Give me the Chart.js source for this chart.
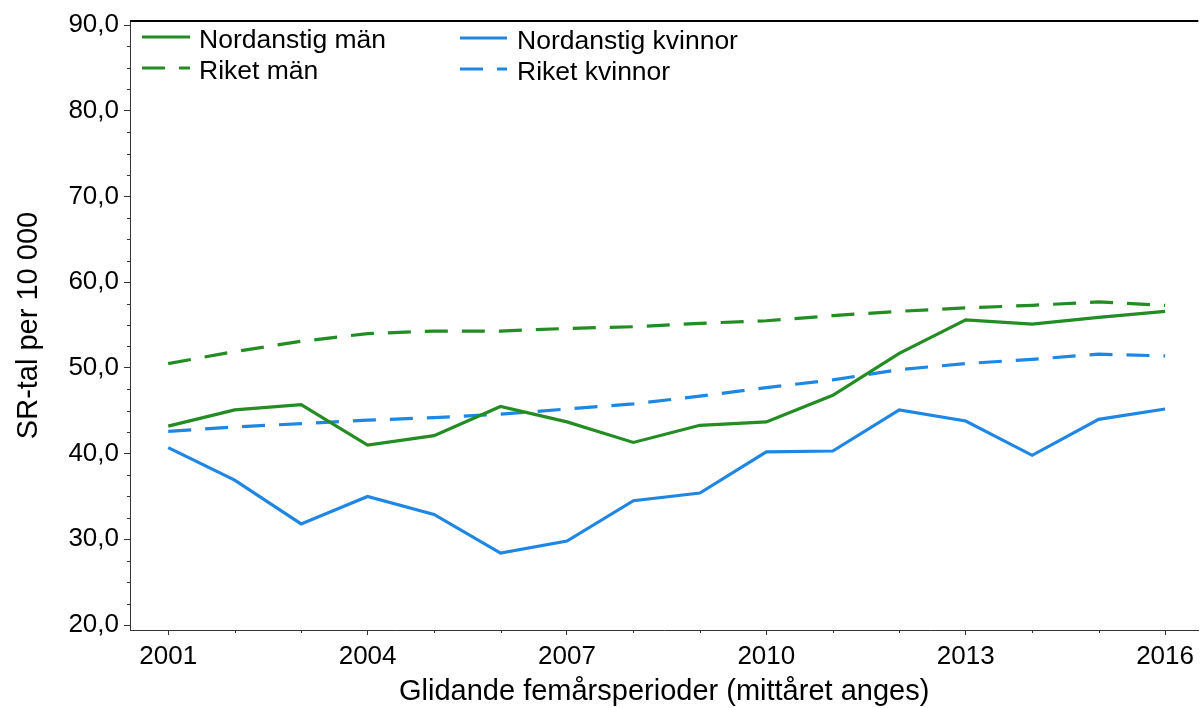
<!DOCTYPE html>
<html><head><meta charset="utf-8">
<script src="https://cdn.jsdelivr.net/npm/chart.js@4.4.1/dist/chart.umd.min.js"></script>
<style>html,body{margin:0;padding:0;background:#fff}#wrap{width:1200px;height:708px}</style>
</head><body><div id="wrap"><canvas id="c" width="1200" height="708"></canvas></div>
<script>
const years = [2001,2002,2003,2004,2005,2006,2007,2008,2009,2010,2011,2012,2013,2014,2015,2016];
const nordanstigMan = [43.2,45.1,45.7,41.0,42.1,45.5,43.7,41.3,43.3,43.7,46.8,51.7,55.6,55.1,55.9,56.6];
const riketMan = [50.5,51.9,53.1,54.0,54.3,54.3,54.6,54.8,55.2,55.5,56.1,56.6,57.0,57.3,57.7,57.3];
const nordanstigKvinnor = [40.7,36.9,31.8,35.0,32.9,28.4,29.8,34.5,35.4,40.2,40.3,45.1,43.8,39.8,44.0,45.2];
const riketKvinnor = [42.6,43.1,43.5,43.9,44.2,44.6,45.2,45.8,46.7,47.7,48.6,49.8,50.5,51.0,51.6,51.4];
const yTickValues = [20,30,40,50,60,70,80,90];
const xTickLabels = [2001,2004,2007,2010,2013,2016];
const seriesLabels = ['Nordanstig män','Riket män','Nordanstig kvinnor','Riket kvinnor'];
const yTitle = 'SR-tal per 10 000';
const xTitle = 'Glidande femårsperioder (mittåret anges)';

const GREEN = '#238c23';
const BLUE = '#1f87e3';
const FONT = '"Liberation Sans", Arial, sans-serif';
const DASH = [23, 14];

function pts(arr){ return years.map((y,i)=>({x:y, y:arr[i]})); }

const extras = {
  id: 'extras',
  afterDraw(chart){
    const ctx = chart.ctx, a = chart.chartArea;
    const xs = chart.scales.x, ys = chart.scales.y;
    ctx.save();
    ctx.strokeStyle = '#000'; ctx.lineWidth = 2;
    ctx.beginPath(); ctx.moveTo(a.left, a.top); ctx.lineTo(a.right, a.top); ctx.stroke();
    ctx.strokeStyle = '#333'; ctx.lineWidth = 1;
    years.forEach(v=>{
      if (xTickLabels.includes(v)) return;
      const px = Math.round(xs.getPixelForValue(v)) + 0.5;
      ctx.beginPath(); ctx.moveTo(px, a.bottom); ctx.lineTo(px, a.bottom + 3); ctx.stroke();
    });
    for (let v = 20; v <= 90; v += 2.5) {
      if (v % 10 === 0) continue;
      const py = Math.round(ys.getPixelForValue(v)) + 0.5;
      ctx.beginPath(); ctx.moveTo(a.left - 3, py); ctx.lineTo(a.left, py); ctx.stroke();
    }
    const pos = [
      {x1:142, x2:190, y:37, tx:199},
      {x1:142, x2:190, y:68, tx:199},
      {x1:460, x2:507, y:38, tx:517},
      {x1:460, x2:507, y:69, tx:517}
    ];
    chart.data.datasets.forEach((ds,i)=>{
      const p = pos[i];
      ctx.strokeStyle = ds.borderColor; ctx.lineWidth = 3;
      ctx.setLineDash(ds.borderDash || []);
      ctx.beginPath(); ctx.moveTo(p.x1, p.y); ctx.lineTo(p.x2, p.y); ctx.stroke();
      ctx.setLineDash([]);
      ctx.fillStyle = '#000'; ctx.font = '26.5px ' + FONT;
      ctx.textBaseline = 'middle'; ctx.textAlign = 'left';
      ctx.fillText(ds.label, p.tx, p.y + 4);
    });
    ctx.restore();
  }
};

new Chart(document.getElementById('c'), {
  type: 'line',
  data: {
    datasets: [
      {label: seriesLabels[0], data: pts(nordanstigMan), borderColor: GREEN, borderWidth: 3.2},
      {label: seriesLabels[1], data: pts(riketMan), borderColor: GREEN, borderWidth: 3.2, borderDash: DASH},
      {label: seriesLabels[2], data: pts(nordanstigKvinnor), borderColor: BLUE, borderWidth: 3.2},
      {label: seriesLabels[3], data: pts(riketKvinnor), borderColor: BLUE, borderWidth: 3.2, borderDash: DASH}
    ]
  },
  options: {
    responsive: false,
    animation: false,
    devicePixelRatio: 1,
    layout: {padding: {top: 21, right: 0, left: 0, bottom: 0}},
    elements: {point: {radius: 0}, line: {tension: 0, fill: false}},
    plugins: {legend: {display: false}, tooltip: {enabled: false}},
    scales: {
      x: {
        type: 'linear', min: 2000.425, max: 2016.5,
        afterBuildTicks(s){ s.ticks = years.map(v=>({value:v})); },
        afterFit(s){ s.height = 78; },
        ticks: {autoSkip: false, maxRotation: 0, padding: 6, color: '#000',
          font: {family: FONT, size: 26},
          callback: v => xTickLabels.includes(v) ? String(v) : ''},
        grid: {drawOnChartArea: false, tickLength: 5,
          tickColor: c => (c.tick && xTickLabels.includes(c.tick.value)) ? '#333' : 'rgba(0,0,0,0)'},
        border: {display: true, color: '#333', width: 1},
        title: {display: true, text: xTitle, color: '#000', font: {family: FONT, size: 29}, padding: {top: 0, bottom: -1}}
      },
      y: {
        type: 'linear', min: 19.42, max: 90.47,
        afterBuildTicks(s){ const t=[]; for(let v=20; v<=90; v+=2.5) t.push({value:v}); s.ticks = t; },
        afterFit(s){ s.width = 130; },
        ticks: {autoSkip: false, padding: 5, color: '#000',
          font: {family: FONT, size: 26},
          callback: v => yTickValues.includes(v) ? v.toFixed(1).replace('.', ',') : ''},
        grid: {drawOnChartArea: false, tickLength: 6,
          tickColor: c => (c.tick && yTickValues.includes(c.tick.value)) ? '#333' : 'rgba(0,0,0,0)'},
        border: {display: true, color: '#333', width: 1},
        title: {display: true, text: yTitle, color: '#000', font: {family: FONT, size: 29}, padding: {top: 12, bottom: 0}}
      }
    }
  },
  plugins: [extras]
});
</script></body></html>
